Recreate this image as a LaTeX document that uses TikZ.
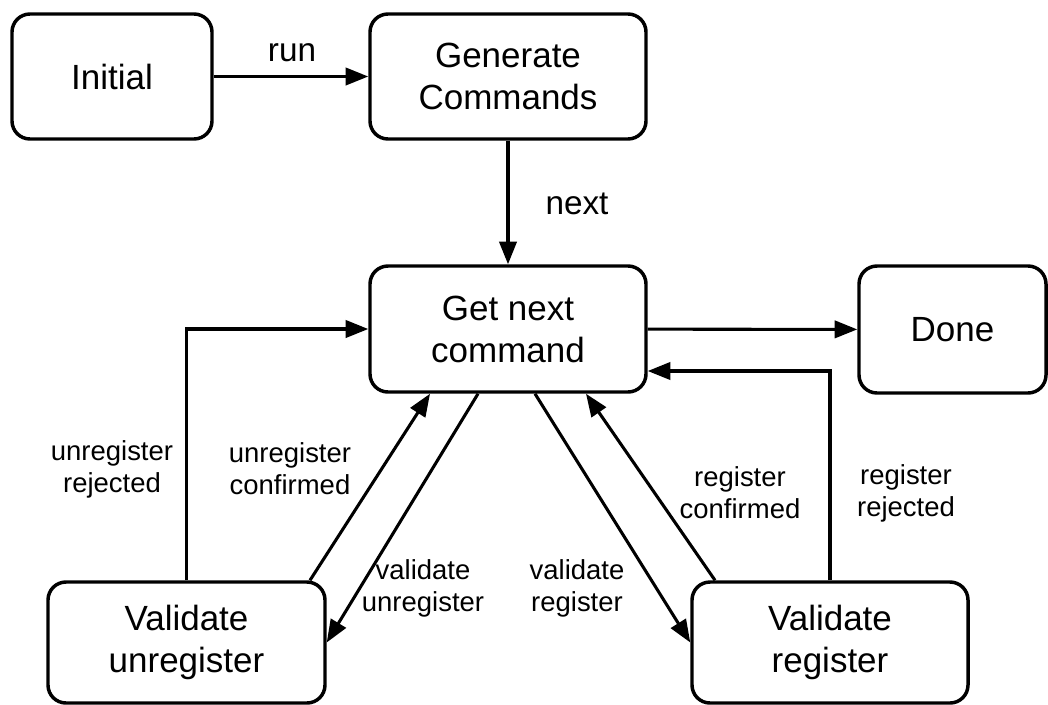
\documentclass[tikz,border=0pt]{standalone}
\usepackage{fontspec}
\setmainfont{Liberation Sans}
\usetikzlibrary{arrows.meta,calc}
\begin{document}
\begin{tikzpicture}[x=0.75pt, y=-0.75pt,
  state/.style={draw, line width=2.6pt, rounded corners=13.5pt, inner sep=0pt,
    align=center, font=\fontsize{26.25pt}{31.5pt}\selectfont},
  lbl/.style={align=center, inner sep=0pt, font=\fontsize{20.6pt}{24pt}\selectfont},
  biglbl/.style={lbl, font=\fontsize{25pt}{30pt}\selectfont},
  arr/.style={line width=2.3pt, -{Triangle[length=17pt, width=13pt]}}
]
\useasboundingbox (0,0) rectangle (1048,704);

% states
\node[state, minimum width=150pt, minimum height=93.75pt] (init) at (112,76.5) {Initial};
\node[state, minimum width=207pt, minimum height=93.75pt] (gen) at (508,76.5) {Generate\\Commands};
\node[state, minimum width=207pt, minimum height=94.5pt] (getnext) at (508,329) {Get next\\command};
\node[state, minimum width=140.25pt, minimum height=95.25pt] (done) at (952.5,329.5) {Done};
\node[state, minimum width=207.75pt, minimum height=90.75pt] (vunreg) at (186.5,642.5) {Validate\\unregister};
\node[state, minimum width=207pt, minimum height=90.75pt] (vreg) at (830,642.5) {Validate\\register};

% transitions
\draw[arr] (init) -- (gen);
\draw[arr] (gen) -- (getnext);
\draw[arr] (getnext) -- (done);
\draw[arr] (vunreg.north) |- (getnext.west);
\draw[arr] ($(vunreg.north)+(123.5,0)$) -- ($(getnext.south)+(-78,0)$);
\draw[arr] ($(getnext.south)+(-30,0)$) -- (vunreg.east);
\draw[arr] ($(getnext.south)+(27,0)$) -- (vreg.west);
\draw[arr] ($(vreg.north)+(-115,0)$) -- ($(getnext.south)+(78,0)$);
\draw[arr] (vreg.north) |- ($(getnext.east)+(0,42)$);

% transition labels
\node[biglbl] (lrun) at (292,53) {run};
\node[biglbl] (lnext) at (577,204) {next};
\node[lbl] (lur) at (112,469) {unregister\\rejected};
\node[lbl] (luc) at (290,469) {unregister\\confirmed};
\node[lbl] (lvu) at (423,588) {validate\\unregister};
\node[lbl] (lvr) at (577,588) {validate\\register};
\node[lbl] (lrc) at (740,493) {register\\confirmed};
\node[lbl] (lrr) at (906,493) {register\\rejected};
\end{tikzpicture}
\end{document}
